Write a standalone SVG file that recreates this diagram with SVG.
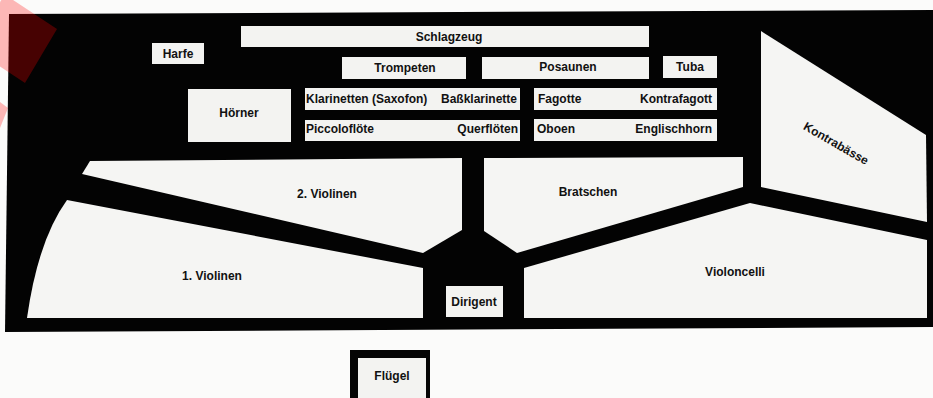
<svg xmlns="http://www.w3.org/2000/svg" width="933" height="398" viewBox="0 0 933 398">
<defs>
<style>
.lbl{font-family:"Liberation Sans",Arial,Helvetica,sans-serif;font-weight:bold;font-size:12px;fill:#111;}
.box{fill:#f3f3f1;}
.area{fill:#f5f5f3;}
.mid{text-anchor:middle;}
.end{text-anchor:end;}
.mark{fill:#ff0000;fill-opacity:0.27;}
</style>
</defs>
<rect x="0" y="0" width="933" height="398" fill="#fbfbfa"/>
<!-- stage background -->
<polygon points="9,14 933,10 933,327 5,332" fill="#030303"/>

<g id="schlagzeug"><rect class="box" x="241" y="26" width="408" height="21"/><text class="lbl mid" x="449" y="41">Schlagzeug</text></g>
<g id="harfe"><rect class="box" x="152" y="43" width="52" height="21"/><text class="lbl mid" x="178" y="58">Harfe</text></g>
<g id="trompeten"><rect class="box" x="342" y="57" width="124" height="22"/><text class="lbl mid" x="405" y="72">Trompeten</text></g>
<g id="posaunen"><rect class="box" x="482" y="57" width="167" height="22"/><text class="lbl mid" x="568" y="71">Posaunen</text></g>
<g id="tuba"><rect class="box" x="663" y="56" width="54" height="22"/><text class="lbl mid" x="690" y="71">Tuba</text></g>
<g id="hoerner"><rect class="box" x="188" y="89" width="103" height="53"/><text class="lbl mid" x="239" y="117">Hörner</text></g>
<g id="klarinetten"><rect class="box" x="305" y="88" width="215" height="22"/><text class="lbl" x="306" y="103">Klarinetten (Saxofon)</text><text class="lbl end" x="517" y="103">Baßklarinette</text></g>
<g id="floeten"><rect class="box" x="305" y="120" width="215" height="21"/><text class="lbl" x="306" y="133">Piccoloflöte</text><text class="lbl end" x="518" y="133">Querflöten</text></g>
<g id="fagotte"><rect class="box" x="534" y="88" width="183" height="22"/><text class="lbl" x="538" y="103">Fagotte</text><text class="lbl end" x="712" y="103">Kontrafagott</text></g>
<g id="oboen"><rect class="box" x="534" y="119" width="183" height="22"/><text class="lbl" x="537" y="133">Oboen</text><text class="lbl end" x="712" y="133">Englischhorn</text></g>
<g id="kontrabaesse"><polygon class="area" points="761,31 926,135 927,222 761,187"/><text class="lbl mid" transform="translate(834,147) rotate(30)">Kontrabässe</text></g>

<g id="violinen2"><path class="area" d="M82,174 L90,161 L462,158 L462,230 L423,253 Z"/><text class="lbl mid" x="327" y="198">2. Violinen</text></g>
<g id="bratschen"><polygon class="area" points="484,158 743,157 743,187 517,253 484,231"/><text class="lbl mid" x="588" y="196">Bratschen</text></g>
<g id="violinen1"><path class="area" d="M67,200 L423,268 L423,318 L27,318 Q38,240 67,200 Z"/><text class="lbl mid" x="212" y="280">1. Violinen</text></g>
<g id="violoncelli"><polygon class="area" points="524,268 750,203 927,240 927,318 524,318"/><text class="lbl mid" x="735" y="276">Violoncelli</text></g>
<g id="dirigent"><rect class="box" x="446" y="286" width="57" height="31"/><text class="lbl mid" x="474" y="306">Dirigent</text></g>

<g id="fluegel"><rect x="350" y="350" width="80" height="60" fill="#050505"/><rect class="box" x="358" y="358" width="68" height="50"/><text class="lbl mid" x="392" y="380">Flügel</text></g>

<g id="connectors"></g>

<!-- translucent red marks -->
<polygon class="mark" points="4.6,-5.6 57,29 25,83 -27.4,48.4"/>
<polygon class="mark" points="0,102 8,108 0,128"/>
</svg>
